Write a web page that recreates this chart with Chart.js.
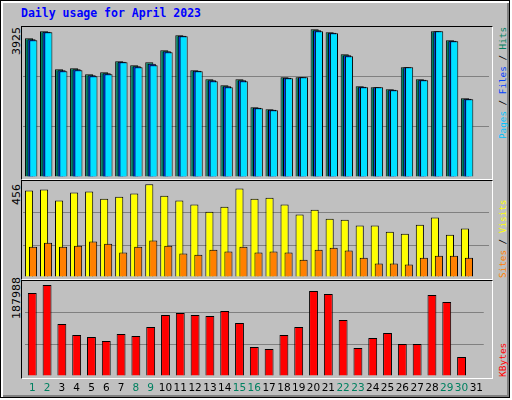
<!DOCTYPE html>
<html><head><meta charset="utf-8">
<script src="https://cdn.jsdelivr.net/npm/chart.js@4"></script>
<style>
body{margin:0;width:512px;height:400px;overflow:hidden;background:#fff}
#page{position:absolute;left:0;top:0;width:508px;height:396px;background:#C0C0C0;border:1px solid #000;box-shadow:inset 2px 2px 0 #fff,inset -2px -2px 0 #808080}
.frame{position:absolute;border-top:1px solid #000;border-left:1px solid #000;border-bottom:1px solid #fff;border-right:1px solid #fff;box-sizing:border-box}
canvas{position:absolute}
.t{position:absolute;font-family:"DejaVu Sans Mono",monospace;white-space:nowrap}
.rot{transform-origin:0 0;transform:rotate(-90deg)}
</style></head><body>
<div id="page">
<div class="t" style="left:20px;top:5px;color:#0000FF;font-weight:bold;font-size:11.5px">Daily usage for April 2023</div>
<div class="frame" style="left:20px;top:25px;width:472px;height:154px"></div>
<div class="frame" style="left:20px;top:179px;width:472px;height:100px"></div>
<div class="frame" style="left:20px;top:279px;width:472px;height:99px"></div>
<div class="t rot" style="left:9px;top:54px;font-family:'DejaVu Sans';font-size:11px;color:#000">3925</div>
<div class="t rot" style="left:9px;top:204px;font-family:'DejaVu Sans';font-size:11px;color:#000">456</div>
<div class="t rot" style="left:9px;top:318px;font-family:'DejaVu Sans';font-size:11px;color:#000">187988</div>
<div class="t rot" style="left:496px;top:138px;font-size:9.3px"><span style="color:#00C0FF">Pages</span><span style="color:#000"> / </span><span style="color:#0040FF">Files</span><span style="color:#000"> / </span><span style="color:#008060">Hits</span></div>
<div class="t rot" style="left:496px;top:277px;font-size:9.3px"><span style="color:#FF8000">Sites</span><span style="color:#000"> / </span><span style="color:#FFFF00">Visits</span></div>
<div class="t rot" style="left:496px;top:376px;font-size:9.5px;color:#FF0000">KBytes</div>
</div>
<canvas id="c1" width="466" height="151" style="left:23px;top:26px"></canvas>
<canvas id="c2" width="466" height="96" style="left:23px;top:181px"></canvas>
<canvas id="c3" width="466" height="115" style="left:23px;top:281px"></canvas>
<script>
const days = Array.from({length:31},(_,i)=>String(i+1));
const weekend = [1,2,8,9,15,16,22,23,29,30];
const hits  = [3687,3873,2863,2889,2730,2783,3075,2969,3049,3368,3766,2836,2597,2437,2597,1853,1799,2650,2650,3925,3846,3261,2411,2384,2331,2916,2597,3873,3633,2092,0];
const files = [3660,3860,2836,2862,2704,2756,3062,2942,3009,3341,3753,2823,2570,2410,2570,1840,1786,2637,2650,3899,3833,3234,2397,2384,2318,2916,2584,3873,3620,2078,0];
const pages = [3634,3846,2810,2836,2677,2730,3049,2916,2969,3314,3740,2810,2544,2384,2544,1826,1773,2624,2650,3873,3820,3208,2384,2384,2304,2916,2571,3873,3607,2065,0];
const visits= [425,430,376,415,420,385,395,410,456,400,376,356,321,346,435,385,390,356,307,331,287,282,253,253,223,213,257,292,208,238,0];
const sites = [149,169,149,154,174,164,120,149,179,154,115,110,134,125,149,120,125,120,85,134,144,130,95,66,66,61,95,105,105,95,0];
const kbytes= [171461,187988,107422,84698,80566,72303,86764,82632,101224,126014,130145,126014,123948,134277,109487,59908,55777,84698,101224,175593,169396,115685,57842,78500,88829,66106,66106,167330,152869,39250,0];
const tops = {hits:4013, visits:472, kbytes:196250};

const shiftPlugin = {id:'shift',afterDatasetsUpdate(chart){
  chart.data.datasets.forEach((ds,i)=>{
    const sh = ds.shift||0;
    chart.getDatasetMeta(i).data.forEach(el=>{el.x += sh;});
  });
}};
function yAxis(max){
  return {min:0,max:max,afterFit:s=>{s.width=0;},border:{display:false},
    ticks:{display:false},
    afterBuildTicks:s=>{s.ticks=[0,max/3,2*max/3,max].map(v=>({value:v}));},
    grid:{drawTicks:false,lineWidth:1,color:c=>(c.index===1||c.index===2)?'#808080':'rgba(0,0,0,0)'}};
}
function xHidden(){return {display:false,grid:{display:false}};}
const base = {responsive:false,animation:false,layout:{padding:0},
  plugins:{legend:{display:false},tooltip:{enabled:false}}};
const barOpts = {grouped:false,categoryPercentage:1,barPercentage:0.54};

new Chart(document.getElementById('c1'),{type:'bar',plugins:[shiftPlugin],
  data:{labels:days,datasets:[
    {data:hits,backgroundColor:'#008060',borderColor:'#000',borderWidth:1,order:3,shift:-1.5},
    {data:files,backgroundColor:'#0040FF',borderColor:'#000',borderWidth:1,order:2,shift:1},
    {data:pages,backgroundColor:'#00E0FF',borderColor:'#000',borderWidth:1,order:1,shift:2.8}]},
  options:Object.assign({},base,{datasets:{bar:barOpts},
    scales:{x:xHidden(),y:yAxis(tops.hits)}})});

new Chart(document.getElementById('c2'),{type:'bar',plugins:[shiftPlugin],
  data:{labels:days,datasets:[
    {data:visits,backgroundColor:'#FFFF00',borderColor:'#000',borderWidth:1,order:2,shift:-1.5},
    {data:sites,backgroundColor:'#FF8000',borderColor:'#000',borderWidth:1,order:1,shift:2.5}]},
  options:Object.assign({},base,{datasets:{bar:barOpts},
    scales:{x:xHidden(),y:yAxis(tops.visits)}})});

new Chart(document.getElementById('c3'),{type:'bar',
  data:{labels:days,datasets:[
    {data:kbytes,backgroundColor:'#FF0000',borderColor:'#000',borderWidth:1}]},
  options:Object.assign({},base,{datasets:{bar:{categoryPercentage:1,barPercentage:0.6}},
    scales:{x:{afterFit:s=>{s.height=20;},border:{display:false},grid:{display:false,drawTicks:false},
      ticks:{padding:6,maxRotation:0,autoSkip:false,font:{family:'DejaVu Sans',size:10.5},
        color:c=>weekend.includes(c.index+1)?'#008060':'#000'}},
      y:yAxis(tops.kbytes)}})});
</script>
</body></html>
